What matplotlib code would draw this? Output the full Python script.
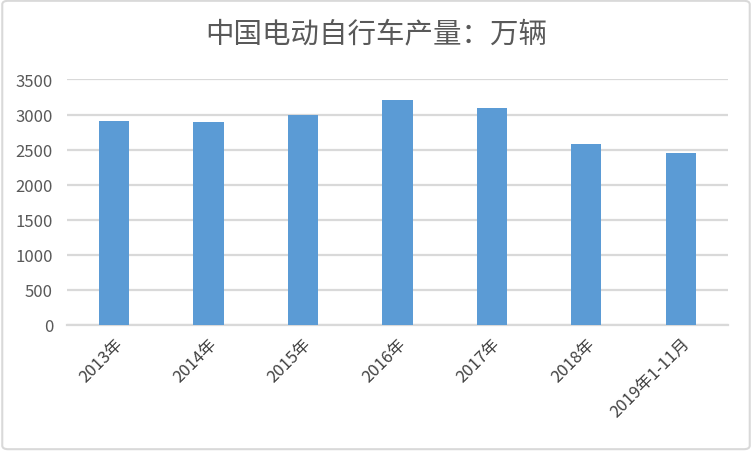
import matplotlib
matplotlib.use("Agg")
import matplotlib.pyplot as plt
from matplotlib.patches import FancyBboxPatch

plt.rcParams['font.family'] = ['Noto Sans CJK SC', 'DejaVu Sans']

categories = ["2013年", "2014年", "2015年", "2016年", "2017年", "2018年", "2019年1-11月"]
values = [2910, 2897, 3000, 3210, 3097, 2581, 2453]
yticks = [0, 500, 1000, 1500, 2000, 2500, 3000, 3500]
title = "中国电动自行车产量：万辆"

fig = plt.figure(figsize=(7.52, 4.52), dpi=100)
fig.patch.set_facecolor('white')
border = FancyBboxPatch((0.003, 0.004), 0.994, 0.992, boxstyle="round,pad=0,rounding_size=0.008",
                        transform=fig.transFigure, facecolor='none', edgecolor='#d9d9d9', lw=1.5)
fig.patches.append(border)

ax = fig.add_axes([0.089, 0.279, 0.879, 0.543])
x = list(range(len(categories)))
ax.bar(x, values, width=0.32, color='#5b9bd5', zorder=3)
ax.set_xlim(-0.5, len(categories) - 0.5)
ax.set_ylim(0, 3500)
ax.set_yticks(yticks)
ax.set_yticklabels([str(v) for v in yticks], fontsize=12, color='#595959')
ax.yaxis.grid(True, color='#d9d9d9', lw=1.6, zorder=0)
ax.set_axisbelow(True)
for s in ['top', 'right', 'left']:
    ax.spines[s].set_visible(False)
ax.spines['bottom'].set_color('#d9d9d9')
ax.spines['bottom'].set_linewidth(1.6)
ax.tick_params(axis='both', length=0)
ax.tick_params(axis='y', pad=10)
ax.set_xticks(x)
ax.set_xticklabels(categories, rotation=45, ha='right', va='top', rotation_mode='anchor',
                   fontsize=12, color='#404040')
ax.tick_params(axis='x', pad=7)

fig.text(0.5, 0.923, title, ha='center', va='center', fontsize=20.5, color='#595959')

fig.savefig('out.png', dpi=100, facecolor='white')
